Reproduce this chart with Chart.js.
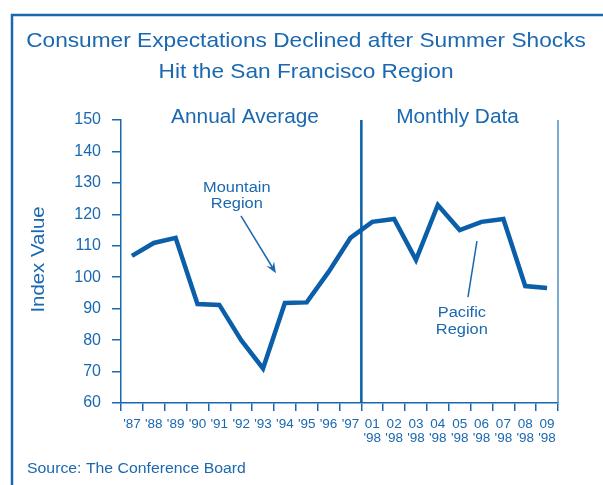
<!DOCTYPE html>
<html><head><meta charset="utf-8">
<script src="https://cdn.jsdelivr.net/npm/chart.js@4"></script>
<style>html,body{margin:0;padding:0;background:#fff}#wrap{width:603px;height:485px;position:relative}</style>
</head><body><div id="wrap"><canvas id="c" width="603" height="485"></canvas></div>
<script>
const categories = ["'87","'88","'89","'90","'91","'92","'93","'94","'95","'96","'97",
  ["01","'98"],["02","'98"],["03","'98"],["04","'98"],["05","'98"],["06","'98"],["07","'98"],["08","'98"],["09","'98"]];
const indexValues = [106.8,110.9,112.5,91.5,91.2,80.0,71.0,91.8,92.0,101.7,112.5,
  117.6,118.5,105.5,123.0,115.0,117.6,118.5,97.2,96.6];
const yMin = 60, yMax = 150, yStep = 10;
const titleLines = ["Consumer Expectations Declined after Summer Shocks","Hit the San Francisco Region"];
const sectionLabels = ["Annual Average","Monthly Data"];
const yTitle = "Index Value";
const sourceText = "Source: The Conference Board";
const notes = [["Mountain","Region"],["Pacific","Region"]];

const TXT = '#1a68b0', LINE = '#0b5ea8', FONT = '"Liberation Sans", Arial, sans-serif';
const SX = 1.08;

function sText(ctx, text, x, y, size, align) {
  ctx.save();
  ctx.translate(x, y);
  ctx.scale(SX, 1);
  ctx.font = size + 'px ' + FONT;
  ctx.textAlign = align || 'center';
  ctx.textBaseline = 'alphabetic';
  ctx.fillStyle = TXT;
  ctx.fillText(text, 0, 0);
  ctx.restore();
}

const decor = {
  id: 'decor',
  afterDraw(chart) {
    const ctx = chart.ctx, xs = chart.scales.x, ys = chart.scales.y, ca = chart.chartArea;
    ctx.save();
    // frame
    ctx.strokeStyle = TXT; ctx.lineWidth = 2.5;
    ctx.beginPath(); ctx.moveTo(12, 485); ctx.lineTo(12, 15); ctx.lineTo(603, 15); ctx.stroke();
    // title
    sText(ctx, titleLines[0], 306, 47, 21);
    sText(ctx, titleLines[1], 306, 78, 21);
    // separator and right line
    const sepX = (xs.getPixelForValue(10) + xs.getPixelForValue(11)) / 2;
    ctx.strokeStyle = LINE; ctx.lineWidth = 2.5;
    ctx.beginPath(); ctx.moveTo(sepX, ca.top); ctx.lineTo(sepX, ca.bottom); ctx.stroke();
    ctx.strokeStyle = '#4d8fca'; ctx.lineWidth = 1.5;
    ctx.beginPath(); ctx.moveTo(ca.right, ca.top); ctx.lineTo(ca.right, ca.bottom); ctx.stroke();
    // section labels
    sText(ctx, sectionLabels[0], 245, 123, 19.3);
    sText(ctx, sectionLabels[1], 457.5, 123, 19.3);
    // Mountain Region annotation
    const px = i => xs.getPixelForValue(0) + (xs.getPixelForValue(1) - xs.getPixelForValue(0)) * i;
    const mx = px(4.8);
    sText(ctx, notes[0][0], mx, 192, 15.2);
    sText(ctx, notes[0][1], mx, 208, 15.2);
    const ax1 = px(4.99), ay1 = ys.getPixelForValue(119.5), ax2 = px(6.59), ay2 = ys.getPixelForValue(101.3);
    ctx.strokeStyle = TXT; ctx.fillStyle = TXT; ctx.lineWidth = 1.5;
    const ang = Math.atan2(ay2 - ay1, ax2 - ax1);
    ctx.beginPath(); ctx.moveTo(ax1, ay1); ctx.lineTo(ax2 - 6 * Math.cos(ang), ay2 - 6 * Math.sin(ang)); ctx.stroke();
    ctx.beginPath();
    ctx.moveTo(ax2, ay2);
    ctx.lineTo(ax2 - 11 * Math.cos(ang) + 4.5 * Math.sin(ang), ay2 - 11 * Math.sin(ang) - 4.5 * Math.cos(ang));
    ctx.lineTo(ax2 - 7 * Math.cos(ang), ay2 - 7 * Math.sin(ang));
    ctx.lineTo(ax2 - 11 * Math.cos(ang) - 4.5 * Math.sin(ang), ay2 - 11 * Math.sin(ang) + 4.5 * Math.cos(ang));
    ctx.closePath(); ctx.fill();
    // Pacific Region annotation
    const pxc = px(15.1);
    sText(ctx, notes[1][0], pxc, 317, 15.2);
    sText(ctx, notes[1][1], pxc, 334, 15.2);
    ctx.lineWidth = 1.5;
    ctx.beginPath(); ctx.moveTo(px(15.79), ys.getPixelForValue(111.5)); ctx.lineTo(px(15.38), ys.getPixelForValue(93.7)); ctx.stroke();
    // y title
    ctx.save();
    ctx.translate(44, (ca.top + ca.bottom) / 2 - 2);
    ctx.rotate(-Math.PI / 2);
    sText(ctx, yTitle, 0, 0, 18.9);
    ctx.restore();
    // source
    sText(ctx, sourceText, 27, 473, 14.65, 'left');
    ctx.restore();
  }
};

new Chart(document.getElementById('c'), {
  type: 'line',
  data: {
    labels: categories,
    datasets: [{
      data: indexValues,
      borderColor: LINE,
      borderWidth: 4.5,
      pointRadius: 0,
      tension: 0,
      fill: false,
      borderJoinStyle: 'miter',
      borderCapStyle: 'butt'
    }]
  },
  options: {
    responsive: false,
    animation: false,
    devicePixelRatio: 1,
    layout: { padding: { top: 120, right: 45, left: 0, bottom: 0 } },
    plugins: { legend: { display: false }, tooltip: { enabled: false }, title: { display: false } },
    scales: {
      x: {
        type: 'category',
        offset: true,
        grid: { offset: true, drawOnChartArea: false, drawTicks: true, tickLength: 8, color: TXT, lineWidth: 1.5 },
        border: { display: true, color: TXT, width: 1.5 },
        ticks: { color: TXT, font: { family: FONT, size: 13.5, lineHeight: 1.0 }, padding: 7, maxRotation: 0, minRotation: 0, autoSkip: false },
        afterFit(s) { s.height = 82; }
      },
      y: {
        min: yMin, max: yMax,
        grid: { drawOnChartArea: false, drawTicks: true, tickLength: 9, color: TXT, lineWidth: 1.5 },
        border: { display: true, color: TXT, width: 1.5 },
        ticks: { stepSize: yStep, color: TXT, font: { family: FONT, size: 16 }, padding: 11 },
        afterFit(s) { s.width = 121; }
      }
    }
  },
  plugins: [decor]
});
</script>
</body></html>
